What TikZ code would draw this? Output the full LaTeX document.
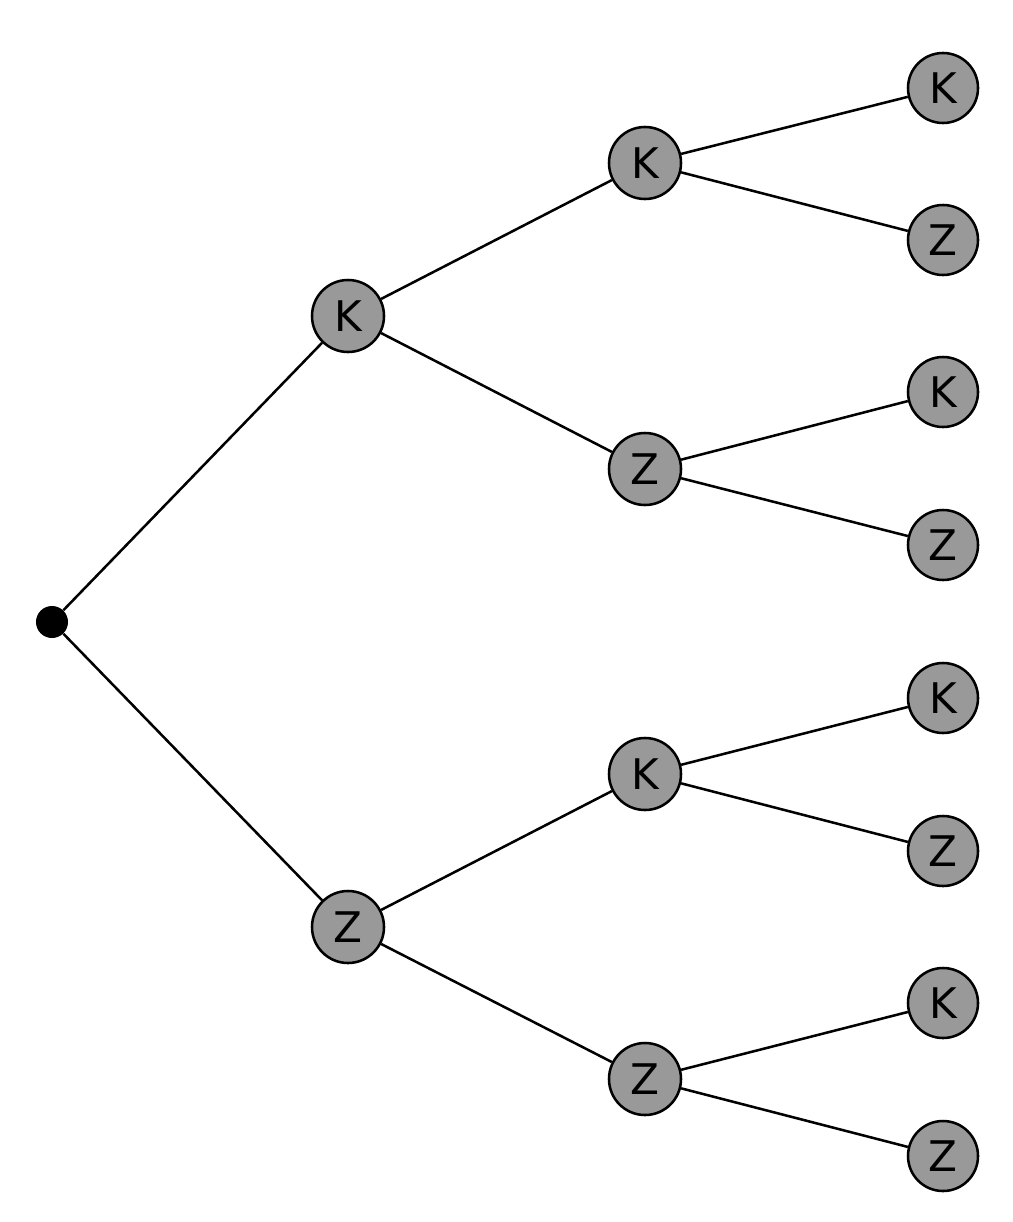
\documentclass[tikz,border=0pt]{standalone}
\usepackage{fontspec}
\setsansfont{DejaVu Sans}
\usepackage{tikz}
\usetikzlibrary{positioning}

\begin{document}
\begin{tikzpicture}[x=0.025cm, y=-0.025cm,
                roundnode/.style={circle, draw, fill=black!40, line width=1.8pt, minimum size=1.8cm, inner sep=0pt, font=\fontsize{30}{30}\sffamily\selectfont},
                leafnode/.style={roundnode, minimum size=1.75cm},
                rootnode/.style={circle, fill=black, minimum size=0.8cm, inner sep=0pt},
                edge/.style={line width=1.8pt},
            ]
            \useasboundingbox (0,0) rectangle (1012,1222);
            % Nodes
            \node[rootnode]     (root)      at (52,622)     {};

            \node[roundnode]    (K)         at (348,316)    {K};
            \node[roundnode]    (Z)         at (348,927)    {Z};

            \node[roundnode]    (KK)        at (645,163)    {K};
            \node[roundnode]    (KZ)        at (645,469)    {Z};
            \node[roundnode]    (ZK)        at (645,774)    {K};
            \node[roundnode]    (ZZ)        at (645,1079)   {Z};

            \node[leafnode]     (KKK)       at (943,88)     {K};
            \node[leafnode]     (KKZ)       at (943,240)    {Z};
            \node[leafnode]     (KZK)       at (943,392)    {K};
            \node[leafnode]     (KZZ)       at (943,545)    {Z};
            \node[leafnode]     (ZKK)       at (943,698)    {K};
            \node[leafnode]     (ZKZ)       at (943,851)    {Z};
            \node[leafnode]     (ZZK)       at (943,1003)   {K};
            \node[leafnode]     (ZZZ)       at (943,1156)   {Z};

            % Lines
            \draw[edge] (root) -- (K);
            \draw[edge] (root) -- (Z);

            \draw[edge] (K) -- (KK);
            \draw[edge] (K) -- (KZ);
            \draw[edge] (Z) -- (ZK);
            \draw[edge] (Z) -- (ZZ);

            \draw[edge] (KK) -- (KKK);
            \draw[edge] (KK) -- (KKZ);
            \draw[edge] (KZ) -- (KZK);
            \draw[edge] (KZ) -- (KZZ);
            \draw[edge] (ZK) -- (ZKK);
            \draw[edge] (ZK) -- (ZKZ);
            \draw[edge] (ZZ) -- (ZZK);
            \draw[edge] (ZZ) -- (ZZZ);
\end{tikzpicture}
\end{document}
